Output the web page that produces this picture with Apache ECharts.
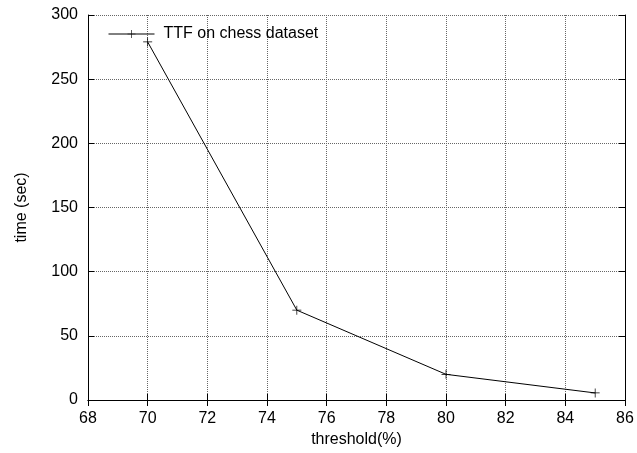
<!DOCTYPE html>
<html>
<head>
<meta charset="utf-8">
<script src="https://cdn.jsdelivr.net/npm/echarts@6/dist/echarts.min.js"></script>
<style>
	html, body { margin: 0; padding: 0; background: #fff; }
	#chart { width: 637px; height: 453px; }
</style>
</head>
<body>
<div id="chart"></div>
<script>

var thresholds = [70, 75, 80, 85];
var times = [279, 70, 20, 5.5];
var seriesName = 'TTF on chess dataset';

var plusSymbol = 'path://M0,4.6H10V5.4H0Z M4.6,0H5.4V10H4.6Z';

function showLineChart() {

	var myChart = echarts.init(document.getElementById('chart'));

	var font = 'Liberation Sans, Arial, sans-serif';

	var tickStyle = {
		show: true,
		inside: true,
		length: 6,
		lineStyle: { color: '#000', width: 1 }
	};

	var option = {
		backgroundColor: '#fff',
		animation: false,
		grid: {
			left: 88,
			right: 12,
			top: 15,
			bottom: 53
		},
		legend: {
			left: 103,
			top: 21,
			itemWidth: 46,
			itemHeight: 10,
			itemStyle: { color: '#000' },
			lineStyle: { color: '#000', width: 1 },
			textStyle: {
				fontFamily: font,
				fontSize: 16,
				color: '#000',
				padding: [0, 0, 0, 4]
			},
			data: [seriesName]
		},
		xAxis: [
			{
				type: 'value',
				min: 68,
				max: 86,
				interval: 2,
				name: 'threshold(%)',
				nameLocation: 'middle',
				nameGap: 30,
				nameTextStyle: { fontFamily: font, fontSize: 16, color: '#000' },
				axisLine: { show: true, lineStyle: { color: '#000', width: 1 } },
				axisTick: tickStyle,
				axisLabel: { fontFamily: font, fontSize: 16, color: '#000', margin: 11 },
				splitLine: { show: true, lineStyle: { type: 'dotted', color: '#666', width: 1 } }
			},
			{
				type: 'value',
				position: 'top',
				min: 68,
				max: 86,
				interval: 2,
				axisLine: { show: true, lineStyle: { color: '#000', width: 1 } },
				axisTick: tickStyle,
				axisLabel: { show: false },
				splitLine: { show: false }
			}
		],
		yAxis: [
			{
				type: 'value',
				min: 0,
				max: 300,
				interval: 50,
				name: 'time (sec)',
				nameLocation: 'middle',
				nameGap: 58,
				nameTextStyle: { fontFamily: font, fontSize: 16, color: '#000' },
				axisLine: { show: true, lineStyle: { color: '#000', width: 1 } },
				axisTick: tickStyle,
				axisLabel: { fontFamily: font, fontSize: 16, color: '#000', margin: 10 },
				splitLine: { show: true, lineStyle: { type: 'dotted', color: '#666', width: 1 } }
			},
			{
				type: 'value',
				position: 'right',
				min: 0,
				max: 300,
				interval: 50,
				axisLine: { show: true, lineStyle: { color: '#000', width: 1 } },
				axisTick: tickStyle,
				axisLabel: { show: false },
				splitLine: { show: false }
			}
		],
		series: [
			{
				name: seriesName,
				type: 'line',
				data: thresholds.map(function (t, i) { return [t, times[i]]; }),
				symbol: plusSymbol,
				symbolSize: 9,
				showAllSymbol: true,
				lineStyle: { color: '#000', width: 1 },
				itemStyle: { color: '#000' },
				emphasis: { disabled: true }
			}
		]
	};

	// show the Chart
	myChart.setOption(option);
}

showLineChart();
</script>
</body>
</html>
